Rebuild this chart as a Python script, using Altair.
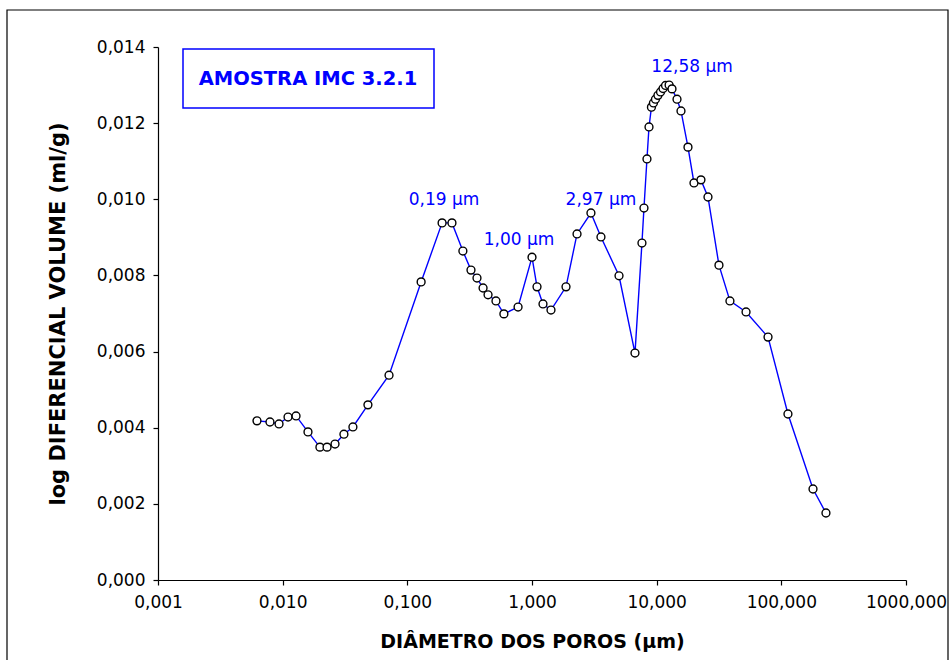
import altair as alt
import pandas as pd

# Pore diameter (µm) and log differential intrusion volume (ml/g)
diam = [
    0.00622, 0.00791, 0.00935, 0.01104, 0.0128, 0.01596, 0.0199, 0.0227,
    0.0263, 0.0310, 0.0366, 0.0483, 0.0713, 0.129, 0.19, 0.228,
    0.279, 0.324, 0.362, 0.405, 0.444, 0.514, 0.595, 0.773,
    1.00, 1.097, 1.225, 1.420, 1.874, 2.297, 2.97, 3.574,
    4.988, 6.70, 7.62, 7.91, 8.36, 8.68, 9.08, 9.42,
    9.78, 10.24, 10.74, 11.25, 11.78, 12.58, 13.27, 14.56,
    15.67, 17.83, 19.92, 22.66, 25.8, 31.6, 38.7, 52.1,
    78.2, 113.0, 179.5, 228.0,
]
dv = [
    0.00418, 0.00415, 0.00410, 0.00428, 0.00431, 0.00389, 0.00349, 0.00349,
    0.00357, 0.00383, 0.00402, 0.00460, 0.00538, 0.00783, 0.00938, 0.00938,
    0.00864, 0.00814, 0.00793, 0.00767, 0.00749, 0.00733, 0.00699, 0.00717,
    0.00848, 0.00770, 0.00725, 0.00709, 0.00770, 0.00909, 0.00964, 0.00901,
    0.00799, 0.00596, 0.00885, 0.00977, 0.01106, 0.01190, 0.01242, 0.01253,
    0.01263, 0.01273, 0.01282, 0.01291, 0.01299, 0.01300, 0.01290, 0.01263,
    0.01232, 0.01137, 0.01043, 0.01051, 0.01006, 0.00827, 0.00733, 0.00704,
    0.00638, 0.00436, 0.00239, 0.00176,
]

# Peak annotations
peak_diam = [0.19, 1.00, 2.97, 12.58]
peak_text = ["0,19 µm", "1,00 µm", "2,97 µm", "12,58 µm"]
peak_offsets = [(2, -23), (-13, -17), (10, -13), (23, -18)]

x_ticks = [0.001, 0.01, 0.1, 1, 10, 100, 1000]
y_ticks = [0.0, 0.002, 0.004, 0.006, 0.008, 0.010, 0.012, 0.014]

W, H = 748, 533
BLUE = "#0000ff"
FONT = "DejaVu Sans"

df = pd.DataFrame({"diam": diam, "dv": dv})

x_enc = alt.X(
    "diam:Q",
    scale=alt.Scale(type="log", domain=[0.001, 1000]),
    axis=alt.Axis(
        values=x_ticks,
        labelExpr="replace(format(datum.value, '.3f'), '.', ',')",
        title="DIÂMETRO DOS POROS (µm)",
        titleFontSize=19,
        titlePadding=22,
        labelPadding=9,
    ),
)
y_enc = alt.Y(
    "dv:Q",
    scale=alt.Scale(domain=[0, 0.014]),
    axis=alt.Axis(
        values=y_ticks,
        labelExpr="replace(format(datum.value, '.3f'), '.', ',')",
        title="log DIFERENCIAL VOLUME (ml/g)",
        titleFontSize=21,
        titlePadding=28,
        labelPadding=8,
    ),
)

base = alt.Chart(df)
line = base.mark_line(color=BLUE, strokeWidth=1.4).encode(x=x_enc, y=y_enc)
dots = base.mark_circle(
    size=62, fill="white", stroke="black", strokeWidth=1.4, opacity=1
).encode(x="diam:Q", y="dv:Q")

layers = [line, dots]

# one text layer per peak label, anchored on its data point
lookup = dict(zip(diam, dv))
for d, t, (ox, oy) in zip(peak_diam, peak_text, peak_offsets):
    pdf = pd.DataFrame({"diam": [d], "dv": [lookup[d]], "label": [t]})
    layers.append(
        alt.Chart(pdf)
        .mark_text(
            color=BLUE, font=FONT, fontSize=17, dx=ox, dy=oy,
            align="center", baseline="middle",
        )
        .encode(x="diam:Q", y="dv:Q", text="label:N")
    )

one = pd.DataFrame({"k": [0]})

# sample name box
box = alt.Chart(one).mark_rect(
    fill="white", stroke=BLUE, strokeWidth=1.5
).encode(x=alt.value(25), x2=alt.value(276), y=alt.value(2), y2=alt.value(61))
box_text = alt.Chart(one).mark_text(
    text="AMOSTRA IMC 3.2.1", color=BLUE, font=FONT, fontSize=19.5,
    fontWeight="bold", align="center", baseline="middle",
).encode(x=alt.value(150), y=alt.value(32))

# outer frame around the whole figure
frame = alt.Chart(one).mark_rect(
    fill="transparent", stroke="black", strokeWidth=1.2, clip=False
).encode(x=alt.value(-151), x2=alt.value(790), y=alt.value(-37), y2=alt.value(640))

chart = (
    alt.layer(frame, *layers, box, box_text)
    .properties(
        width=W, height=H,
        autosize=alt.AutoSizeParams(type="none"),
        padding={"left": 158, "top": 47, "right": 45, "bottom": 80},
        background="white",
    )
    .configure_view(stroke=None)
    .configure_axis(
        grid=False,
        labelFlush=False,
        labelOverlap=False,
        domainColor="black",
        domainWidth=1.2,
        tickColor="black",
        tickWidth=1.2,
        tickSize=5,
        labelFont=FONT,
        labelFontSize=17,
        labelColor="black",
        titleFont=FONT,
        titleFontWeight="bold",
        titleColor="black",
    )
)

chart.save("out.html", embed_options={"renderer": "svg", "actions": False})
